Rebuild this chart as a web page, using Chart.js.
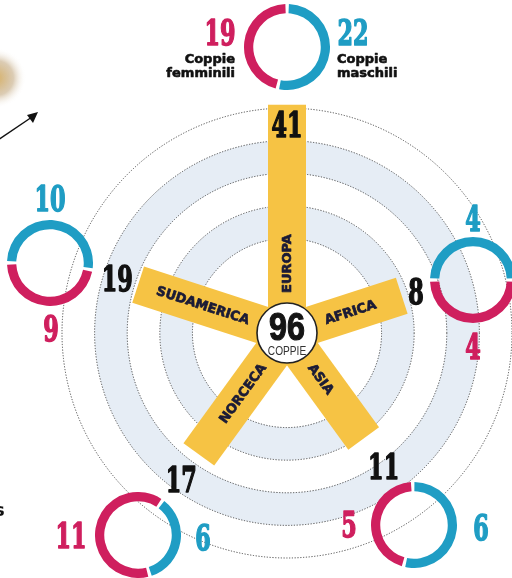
<!DOCTYPE html>
<html><head><meta charset="utf-8">
<script src="https://cdn.jsdelivr.net/npm/chart.js@4.4.1/dist/chart.umd.min.js"></script>
<style>
html,body{margin:0;padding:0;background:#fff;width:512px;height:578px;overflow:hidden;}
#wrap{position:relative;width:512px;height:578px;}
#main{position:absolute;left:0;top:0;z-index:1;}
.donut{position:absolute;z-index:2;}
</style></head><body>
<div id="wrap"><canvas id="main" width="512" height="578"></canvas></div>
<script>
// ---- data ----
const continents = ['EUROPA', 'AFRICA', 'ASIA', 'NORCECA', 'SUDAMERICA'];
const couples = [41, 8, 11, 17, 19];
const femaleCouples = [19, 4, 5, 11, 9];
const maleCouples = [22, 4, 6, 6, 10];
const ringValues = [0, 10, 20, 30, 40];
const totalCouples = 96;
const totalLabel = 'COPPIE';
const femaleLegend = ['Coppie', 'femminili'];
const maleLegend = ['Coppie', 'maschili'];

// ---- layout / style ----
const PINK = '#cf1f5e', BLUE = '#1f9dc4', YELLOW = '#f6c344', BAND = '#e6edf5', INK = '#1b1b36';
const NUMSX = 0.62;
const barWidth = 38;
const textStart = 40;
const valueOffsets = [-19, 15, 34, 30, 22];
const donutLayout = [
  {cx: 287, cy: 47, rot: 0, f: [220, 32], m: [353, 32]},
  {cx: 473, cy: 280, rot: -90, f: [473, 346], m: [473, 218]},
  {cx: 414, cy: 525, rot: -2, f: [349, 524], m: [481, 527]},
  {cx: 138, cy: 535, rot: 36, f: [71, 535], m: [203, 537]},
  {cx: 50, cy: 263, rot: -90, f: [51, 328], m: [50, 198]}
];

function numText(ctx, text, x, y, color, size) {
  size = size || 36;
  ctx.save();
  ctx.font = 'bold ' + size + 'px "DejaVu Serif"';
  ctx.fillStyle = color;
  ctx.strokeStyle = color;
  ctx.lineWidth = 1.6;
  ctx.lineJoin = 'round';
  ctx.textAlign = 'center';
  ctx.textBaseline = 'alphabetic';
  ctx.translate(x, y + size * 0.3645);
  ctx.scale(NUMSX, 1);
  ctx.fillText(text, 0, 0);
  ctx.strokeText(text, 0, 0);
  ctx.restore();
}

function heavyText(ctx, text, x, y, color, w) {
  ctx.fillStyle = color;
  ctx.strokeStyle = color;
  ctx.lineWidth = w;
  ctx.lineJoin = 'round';
  ctx.fillText(text, x, y);
  ctx.strokeText(text, x, y);
}

const starPlugin = {
  id: 'star',
  beforeDatasetsDraw(chart) {
    const s = chart.scales.r, ctx = chart.ctx;
    const cx = s.xCenter, cy = s.yCenter;
    ctx.save();
    for (let i = 0; i + 1 < ringValues.length; i += 2) {
      const r1 = s.getDistanceFromCenterForValue(ringValues[i]);
      const r2 = s.getDistanceFromCenterForValue(ringValues[i + 1]);
      ctx.beginPath();
      ctx.arc(cx, cy, r2, 0, Math.PI * 2);
      ctx.arc(cx, cy, r1, 0, Math.PI * 2, true);
      ctx.fillStyle = BAND;
      ctx.fill();
    }
    ctx.strokeStyle = '#4a4a4a';
    ctx.lineWidth = 1;
    ctx.setLineDash([1.2, 1.6]);
    ringValues.forEach(v => {
      ctx.beginPath();
      ctx.arc(cx, cy, s.getDistanceFromCenterForValue(v), 0, Math.PI * 2);
      ctx.stroke();
    });
    ctx.setLineDash([]);
    couples.forEach((v, i) => {
      const p = s.getPointPositionForValue(i, v);
      const len = Math.hypot(p.x - cx, p.y - cy);
      const ang = Math.atan2(p.y - cy, p.x - cx);
      ctx.save();
      ctx.translate(cx, cy);
      ctx.rotate(ang);
      ctx.fillStyle = YELLOW;
      ctx.fillRect(0, -barWidth / 2, len, barWidth);
      ctx.restore();
    });
    ctx.restore();
  },
  afterDatasetsDraw(chart) {
    const s = chart.scales.r, ctx = chart.ctx;
    const cx = s.xCenter, cy = s.yCenter;
    ctx.save();
    continents.forEach((name, i) => {
      const ang = s.getIndexAngle(i) - Math.PI / 2;
      const outward = Math.cos(ang) >= -1e-6;
      ctx.save();
      ctx.translate(cx + Math.cos(ang) * textStart, cy + Math.sin(ang) * textStart);
      ctx.rotate(outward ? ang : ang + Math.PI);
      ctx.font = 'bold 13px "DejaVu Sans"';
      ctx.textAlign = outward ? 'left' : 'right';
      ctx.textBaseline = 'middle';
      heavyText(ctx, name, 0, 0.5, INK, 0.7);
      ctx.restore();
    });
    couples.forEach((v, i) => {
      const ang = s.getIndexAngle(i) - Math.PI / 2;
      const r = s.getDistanceFromCenterForValue(v) + valueOffsets[i];
      numText(ctx, String(v), cx + Math.cos(ang) * r, cy + Math.sin(ang) * r, '#111');
    });
    ctx.beginPath();
    ctx.arc(cx, cy, 30, 0, Math.PI * 2);
    ctx.fillStyle = '#fff';
    ctx.fill();
    ctx.lineWidth = 1.6;
    ctx.strokeStyle = '#222';
    ctx.stroke();
    ctx.save();
    ctx.font = 'bold 38px "Liberation Sans"';
    ctx.textAlign = 'center';
    ctx.translate(cx, cy + 7);
    ctx.scale(0.85, 1);
    heavyText(ctx, String(totalCouples), 0, 0, '#141414', 1.2);
    ctx.restore();
    ctx.save();
    ctx.font = '13px "Liberation Sans"';
    ctx.fillStyle = '#333';
    ctx.textAlign = 'center';
    ctx.translate(cx, cy + 22);
    ctx.scale(0.78, 1);
    ctx.fillText(totalLabel, 0, 0);
    ctx.restore();
    donutLayout.forEach((d, i) => {
      numText(ctx, String(femaleCouples[i]), d.f[0], d.f[1], PINK);
      numText(ctx, String(maleCouples[i]), d.m[0], d.m[1], BLUE);
    });
    ctx.font = 'bold 13px "DejaVu Sans"';
    ctx.textBaseline = 'alphabetic';
    ctx.textAlign = 'right';
    heavyText(ctx, femaleLegend[0], 235, 63, '#111', 0.6);
    heavyText(ctx, femaleLegend[1], 235, 77, '#111', 0.6);
    ctx.textAlign = 'left';
    heavyText(ctx, maleLegend[0], 337, 63, '#111', 0.6);
    heavyText(ctx, maleLegend[1], 337, 77, '#111', 0.6);
    const g = ctx.createRadialGradient(-4, 78, 2, -4, 78, 30);
    g.addColorStop(0, 'rgba(214,176,104,0.95)');
    g.addColorStop(0.55, 'rgba(196,170,130,0.6)');
    g.addColorStop(1, 'rgba(255,255,255,0)');
    ctx.fillStyle = g;
    ctx.beginPath(); ctx.arc(-4, 78, 30, 0, Math.PI * 2); ctx.fill();
    ctx.strokeStyle = '#111';
    ctx.lineWidth = 1.4;
    ctx.beginPath(); ctx.moveTo(-2, 140); ctx.lineTo(32, 117); ctx.stroke();
    ctx.fillStyle = '#111';
    ctx.beginPath(); ctx.moveTo(38, 112); ctx.lineTo(27, 115); ctx.lineTo(33, 123); ctx.closePath(); ctx.fill();
    ctx.font = 'bold 18px "DejaVu Sans"';
    ctx.textAlign = 'left';
    ctx.fillText('s', -6, 516);
    ctx.restore();
  }
};

new Chart(document.getElementById('main'), {
  type: 'radar',
  data: {labels: continents, datasets: [{data: couples, showLine: false, pointRadius: 0, borderWidth: 0, fill: false, backgroundColor: 'rgba(0,0,0,0)'}]},
  options: {
    responsive: false, animation: false, devicePixelRatio: 1,
    layout: {padding: {left: 62, right: 0, top: 88, bottom: 0}},
    plugins: {legend: {display: false}, tooltip: {enabled: false}},
    scales: {r: {min: -29, max: 40, startAngle: 0,
      ticks: {display: false}, grid: {display: false}, angleLines: {display: false}, pointLabels: {display: false}}}
  },
  plugins: [starPlugin]
});

const wrap = document.getElementById('wrap');
donutLayout.forEach((d, i) => {
  const c = document.createElement('canvas');
  c.width = 86; c.height = 86; c.className = 'donut';
  c.style.left = (d.cx - 43) + 'px';
  c.style.top = (d.cy - 43) + 'px';
  wrap.appendChild(c);
  new Chart(c, {
    type: 'doughnut',
    data: {labels: ['maschili', 'femminili'], datasets: [{data: [maleCouples[i], femaleCouples[i]], backgroundColor: [BLUE, PINK], borderWidth: 0, spacing: 2}]},
    options: {responsive: false, animation: false, devicePixelRatio: 1, rotation: d.rot, cutout: '78%',
      plugins: {legend: {display: false}, tooltip: {enabled: false}}}
  });
});
</script>
</body></html>
